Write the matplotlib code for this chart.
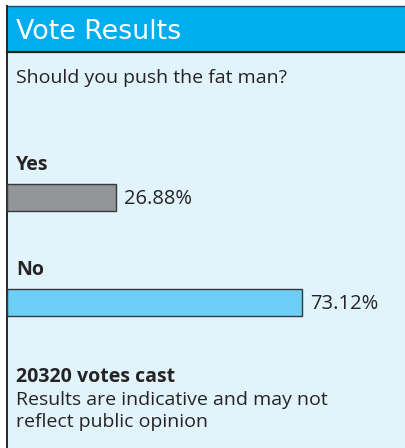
import matplotlib
matplotlib.use("Agg")
from matplotlib import pyplot as plt
from matplotlib.patches import Rectangle
from matplotlib.lines import Line2D

# poll data
title = "Vote Results"
question = "Should you push the fat man?"
choices = ["Yes", "No"]
shares = [26.88, 73.12]
bar_colors = ["#939598", "#6dcff6"]
votes_cast = 20320
footnote = "Results are indicative and may not\nreflect public opinion"

W, H = 405, 448
DPI = 100
plt.rcParams["font.family"] = ["Open Sans", "DejaVu Sans"]
ink = "#262324"

fig = plt.figure(figsize=(W / DPI, H / DPI), dpi=DPI, facecolor="white")


def fx(px):
    return px / W


def fy(py):
    return 1 - py / H


# panel background, header band and borders
fig.add_artist(Rectangle((fx(7), 0), 1 - fx(7), fy(53), transform=fig.transFigure,
                         facecolor="#e1f3fb", edgecolor="none", zorder=-3))
fig.add_artist(Rectangle((fx(7), fy(52)), 1 - fx(7), fy(6.5) - fy(52), transform=fig.transFigure,
                         facecolor="#00aeef", edgecolor="none", zorder=-3))
fig.add_artist(Line2D([fx(7), 1], [fy(6.5), fy(6.5)], transform=fig.transFigure,
                      color="#1d4e68", lw=1.0, zorder=-2))
fig.add_artist(Line2D([fx(7), 1], [fy(52.5), fy(52.5)], transform=fig.transFigure,
                      color="#1e1e1e", lw=1.6, zorder=-2))
fig.add_artist(Line2D([fx(7), fx(7)], [0, fy(6)], transform=fig.transFigure,
                      color="#262626", lw=1.4, zorder=-2))

fig.text(fx(16), fy(39.3), title, family="DejaVu Sans", fontsize=19.4,
         color="white", va="baseline", ha="left")
fig.text(fx(16), fy(83), question, fontsize=14, color=ink, va="baseline", ha="left")

# bars
ax = fig.add_axes([fx(7), fy(340), 1 - fx(7), 200 / H])
ax.set_facecolor("none")
ax.axis("off")
px_per_pct = 4.04
ax.set_xlim(0, (W - 7) / px_per_pct)
ax.set_ylim(1 + 37.5 / 105, -57.5 / 105)

ypos = list(range(len(choices)))
ax.barh(ypos, shares, height=26.5 / 105, color=bar_colors,
        edgecolor="#333b40", linewidth=1.0, align="center")

for i, (name, v) in enumerate(zip(choices, shares)):
    ax.annotate(name, xy=(0, i), xytext=(9, 27.5), textcoords="offset pixels",
                fontsize=14, fontweight="bold", color=ink, va="baseline", ha="left")
    ax.annotate(f"{v:.2f}%", xy=(v, i), xytext=(8, -6.8), textcoords="offset pixels",
                fontsize=14.5, color=ink, va="baseline", ha="left")

fig.text(fx(16), fy(381.5), f"{votes_cast} votes cast", fontsize=14,
         fontweight="bold", color=ink, va="baseline", ha="left")
lines = footnote.split("\n")
fig.text(fx(16), fy(405), lines[0], fontsize=14, color=ink, va="baseline", ha="left")
fig.text(fx(16), fy(426.5), lines[1], fontsize=14, color=ink, va="baseline", ha="left")

fig.savefig("out.png", dpi=DPI, facecolor=fig.get_facecolor())
